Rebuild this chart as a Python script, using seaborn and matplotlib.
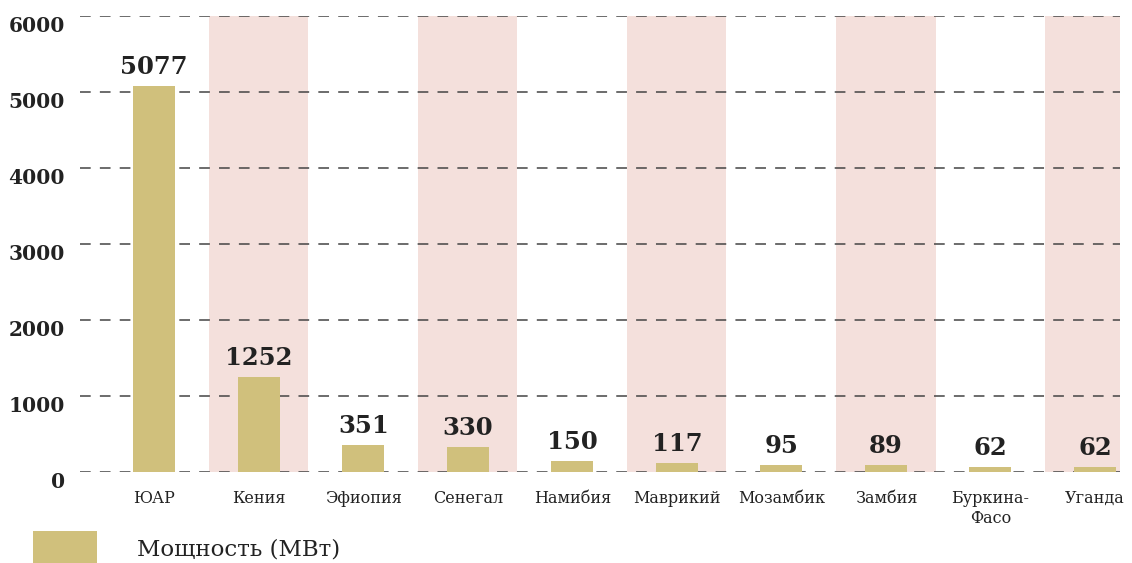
import matplotlib.pyplot as plt
import seaborn as sns
import pandas as pd
from matplotlib.patches import Patch

# data
countries = ["ЮАР", "Кения", "Эфиопия", "Сенегал", "Намибия",
             "Маврикий", "Мозамбик", "Замбия", "Буркина-\nФасо", "Уганда"]
capacity_mw = [5077, 1252, 351, 330, 150, 117, 95, 89, 62, 62]
y_ticks = [0, 1000, 2000, 3000, 4000, 5000, 6000]
legend_label = "Мощность (МВт)"

BAR = "#d0c07c"
BAND = "#f4e0dc"
GRID = "#444444"
TEXT = "#222222"


def main():
    sns.set_style("white")
    plt.rcParams["font.family"] = ["DejaVu Serif"]

    df = pd.DataFrame({"country": countries, "mw": capacity_mw})

    fig = plt.figure(figsize=(11.32, 5.63), dpi=100)
    ax = fig.add_axes([80 / 1132, 1 - 472 / 563, 1040 / 1132, 456 / 563])

    # alternating pink bands behind every second country
    for i in range(1, len(countries), 2):
        ax.axvspan(i - 0.475, i + 0.475, ymin=0, ymax=1, color=BAND,
                   lw=0, zorder=0.1)

    sns.barplot(data=df, x="country", y="mw", color=BAR, width=0.4,
                saturation=1, linewidth=0, ax=ax, zorder=2)

    for i, v in enumerate(capacity_mw):
        ax.annotate(f"{v}", (i, v), xytext=(0, 5), textcoords="offset points",
                    ha="center", va="bottom", fontsize=17.5, fontweight="bold",
                    color=TEXT)

    ax.set_xlim(-0.71, 9.24)
    ax.set_ylim(0, 6000)
    ax.set_yticks(y_ticks)
    # y labels hang below their gridlines
    ax.set_yticklabels([str(t) for t in y_ticks], fontsize=14.5,
                       fontweight="bold", color=TEXT, va="top")
    ax.tick_params(axis="y", length=0, pad=11)
    ax.tick_params(axis="x", length=0, pad=13, labelsize=11.5, labelcolor=TEXT)
    ax.set_xlabel("")
    ax.set_ylabel("")
    ax.set_axisbelow(True)
    ax.yaxis.grid(True, color=GRID, linestyle=(0, (7, 6)), linewidth=1.1,
                  zorder=0.5)
    ax.xaxis.grid(False)
    for s in ax.spines.values():
        s.set_visible(False)

    fig.legend(handles=[Patch(facecolor=BAR, edgecolor="none")],
               labels=[legend_label], loc="lower left",
               bbox_to_anchor=(12 / 1132, -24 / 563), frameon=False,
               fontsize=16.5, handlelength=2.8, handleheight=2.0,
               handletextpad=1.75, labelcolor=TEXT)

    plt.savefig("out.png", dpi=100)
    plt.close()


if __name__ == "__main__":
    main()
